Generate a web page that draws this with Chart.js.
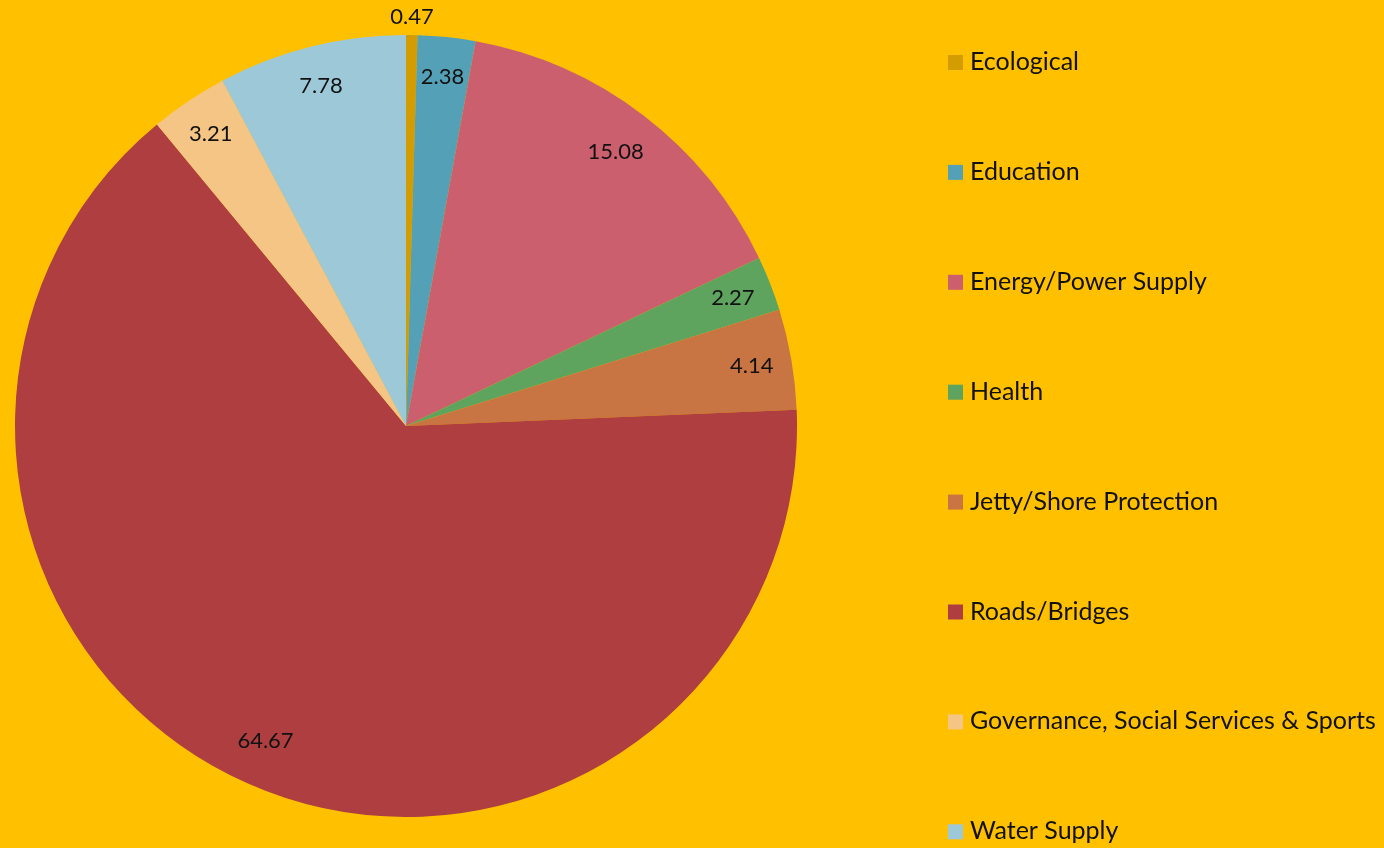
<!DOCTYPE html>
<html>
<head>
<meta charset="utf-8">
<script src="https://cdn.jsdelivr.net/npm/chart.js@4"></script>
<style>
  html, body { margin: 0; padding: 0; background: #FFC000; }
  #wrap { width: 1384px; height: 848px; }
</style>
</head>
<body>
<div id="wrap"><canvas id="myChart"></canvas></div>
<script>
// data (percent shares)
let categories = ['Ecological', 'Education', 'Energy/Power Supply', 'Health',
  'Jetty/Shore Protection', 'Roads/Bridges', 'Governance, Social Services & Sports', 'Water Supply'];
let shares = [0.47, 2.38, 15.08, 2.27, 4.14, 64.67, 3.21, 7.78];
let sliceColors = ['#D39C00', '#54A1B7', '#CB5F6E', '#5EA35E', '#C87443', '#AE3E40', '#F4C584', '#9CC8D8'];

const FONT = 'Lato, "Open Sans", sans-serif';

// value labels near the outer edge of each slice, tiny ones pushed outside
const valueLabels = {
  id: 'valueLabels',
  afterDatasetsDraw(chart) {
    const ctx = chart.ctx;
    const meta = chart.getDatasetMeta(0);
    ctx.save();
    ctx.font = '22px ' + FONT;
    ctx.fillStyle = '#111';
    ctx.textAlign = 'center';
    ctx.textBaseline = 'middle';
    meta.data.forEach((arc, i) => {
      const mid = (arc.startAngle + arc.endAngle) / 2;
      let r = arc.outerRadius - 40;
      if (shares[i] > 10) r = arc.outerRadius - 46;
      if (shares[i] < 1) r = arc.outerRadius + 18;
      const x = arc.x + Math.cos(mid) * r;
      const y = arc.y + Math.sin(mid) * r;
      ctx.fillText(shares[i].toFixed(2), x, y);
    });
    ctx.restore();
  }
};

// legend on the right, spread over the full height
const sideLegend = {
  id: 'sideLegend',
  afterDraw(chart) {
    const ctx = chart.ctx;
    ctx.save();
    ctx.font = '25px ' + FONT;
    ctx.textAlign = 'left';
    ctx.textBaseline = 'middle';
    categories.forEach((name, i) => {
      const y = 62 + i * 109.9;
      ctx.fillStyle = sliceColors[i];
      ctx.fillRect(948, y - 7, 15, 15);
      ctx.fillStyle = '#111';
      ctx.fillText(name, 970, y);
    });
    ctx.restore();
  }
};

var ctx = document.getElementById('myChart').getContext('2d');
var chart = new Chart(ctx, {
  type: 'pie',
  data: {
    labels: categories,
    datasets: [{
      data: shares,
      backgroundColor: sliceColors,
      borderWidth: 0
    }]
  },
  options: {
    responsive: true,
    maintainAspectRatio: false,
    animation: false,
    layout: { padding: { top: 35, bottom: 31, left: 15, right: 587 } },
    plugins: {
      legend: { display: false },
      tooltip: { enabled: false }
    }
  },
  plugins: [valueLabels, sideLegend]
});
</script>
</body>
</html>
